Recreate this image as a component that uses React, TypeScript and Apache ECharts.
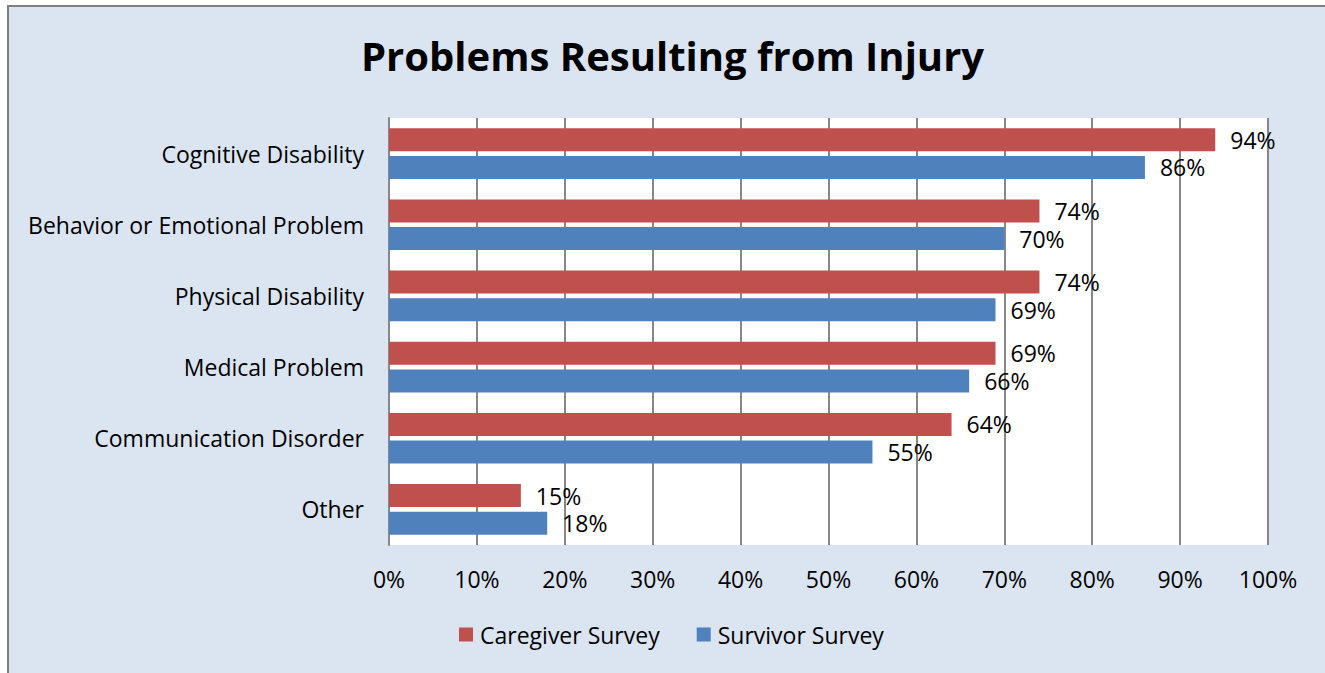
import React, { useEffect, useRef } from "react";
import * as echarts from "echarts";

const categories = [
  "Cognitive Disability",
  "Behavior or Emotional Problem",
  "Physical Disability",
  "Medical Problem",
  "Communication Disorder",
  "Other",
];
const caregiverValues = [94, 74, 74, 69, 64, 15];
const survivorValues = [86, 70, 69, 66, 55, 18];
const seriesNames = ["Caregiver Survey", "Survivor Survey"];
const titleText = "Problems Resulting from Injury";

const FONT = "Open Sans";
const FS = 23;

export default function App() {
  const ref = useRef<HTMLDivElement>(null);
  useEffect(() => {
    document.body.style.margin = "0";
    const chart = echarts.init(ref.current!, null, { renderer: "svg" });
    const labelCfg = {
      show: true,
      position: "right",
      distance: 15,
      formatter: "{c}%",
      color: "#000",
      fontSize: FS,
      fontFamily: FONT,
    };
    chart.setOption({
      animation: false,
      backgroundColor: "#fff",
      textStyle: { fontFamily: FONT },
      graphic: [
        {
          type: "rect",
          z: -10,
          silent: true,
          shape: { x: 8, y: 6, width: 1330, height: 680 },
          style: { fill: "#DBE5F1", stroke: "#7F7F7F", lineWidth: 2 },
        },
      ],
      title: {
        text: titleText,
        left: 356,
        top: 30,
        textStyle: {
          fontFamily: FONT,
          fontWeight: "bold",
          fontSize: 40,
          color: "#000",
        },
      },
      legend: {
        bottom: 22,
        left: 454,
        itemWidth: 14,
        itemHeight: 14,
        itemGap: 37,
        icon: "rect",
        textStyle: {
          fontSize: FS,
          fontFamily: FONT,
          color: "#000",
          padding: [0, 0, 0, 2],
        },
        data: seriesNames,
      },
      grid: {
        left: 389,
        right: 57,
        top: 118,
        bottom: 128,
        show: true,
        backgroundColor: "#fff",
        borderWidth: 0,
      },
      xAxis: {
        type: "value",
        min: 0,
        max: 100,
        interval: 10,
        axisLabel: {
          formatter: "{value}%",
          fontSize: FS,
          color: "#000",
          fontFamily: FONT,
          margin: 22,
        },
        axisLine: { show: false },
        axisTick: { show: false },
        splitLine: { lineStyle: { color: "#878787", width: 2 } },
      },
      yAxis: {
        type: "category",
        inverse: true,
        data: categories,
        axisLabel: {
          fontSize: FS,
          color: "#000",
          fontFamily: FONT,
          margin: 25,
        },
        axisLine: { show: true, lineStyle: { color: "#878787", width: 2 } },
        axisTick: { show: false },
      },
      series: [
        {
          name: seriesNames[0],
          type: "bar",
          data: caregiverValues,
          barWidth: 23,
          barGap: "20%",
          itemStyle: { color: "#C0504D" },
          label: labelCfg,
        },
        {
          name: seriesNames[1],
          type: "bar",
          data: survivorValues,
          barWidth: 23,
          barGap: "20%",
          itemStyle: { color: "#4F81BD" },
          label: labelCfg,
        },
      ],
    });
    return () => chart.dispose();
  }, []);
  return <div ref={ref} style={{ width: 1325, height: 673 }} />;
}
